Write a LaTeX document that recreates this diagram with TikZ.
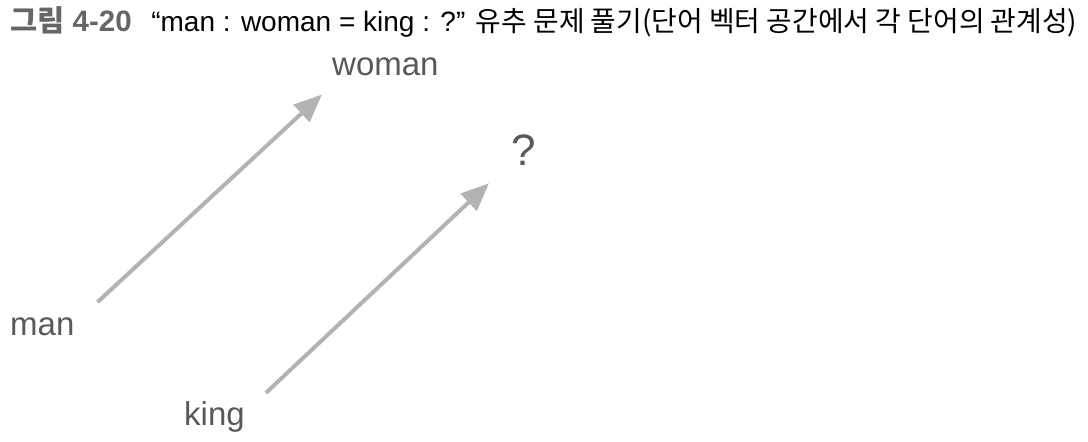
\documentclass[tikz,border=0pt]{standalone}
\usepackage{fontspec}
\setmainfont{Liberation Sans}
\newfontfamily\kor{Noto Sans CJK KR}
\usetikzlibrary{arrows.meta}
\definecolor{labelgray}{HTML}{595959}
\definecolor{arrowgray}{HTML}{B3B3B3}
\definecolor{titlegray}{HTML}{666666}

\begin{document}
\begin{tikzpicture}[x=1pt,y=-1pt,
  word/.style={inner sep=0pt,anchor=base west,text=labelgray,font=\fontsize{33}{39}\selectfont},
  vec/.style={draw=arrowgray,line width=4pt,-{Triangle[length=28pt,width=23pt]}}]
  \useasboundingbox (0,0) rectangle (1088,442);
  % caption
  \node[inner sep=0pt,anchor=base west,font=\fontsize{28}{33}\selectfont] (caption) at (10,31)
    {{\color{titlegray}\bfseries\fontsize{29.5}{33}\selectfont{\kor 그림} 4-20}\hspace{0.7em}“man : woman = king : ?” {\kor\fontsize{27.9}{33}\selectfont 유추 문제 풀기(단어 벡터 공간에서 각 단어의 관계성)}};
  % words
  \node[word] (man) at (10,335) {man};
  \node[word] (woman) at (332,75) {woman};
  \node[word] (king) at (184,425) {king};
  \node[word,font=\fontsize{44}{50}\selectfont] (q) at (511,165) {?};
  % vectors
  \draw[vec] ([shift={(23,-15)}]man.north east) -- ([shift={(-10,19)}]woman.south west);
  \draw[vec] ([shift={(21,-8)}]king.north east) -- ([shift={(-22,18)}]q.south west);
\end{tikzpicture}
\end{document}
